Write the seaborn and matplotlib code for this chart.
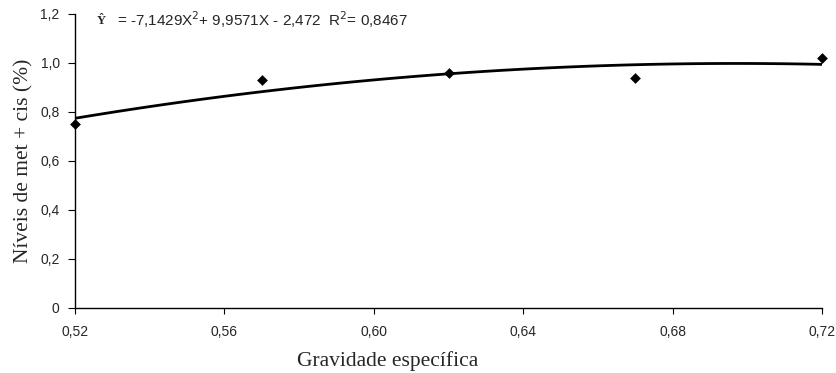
import matplotlib
matplotlib.use("Agg")
import matplotlib.pyplot as plt
import seaborn as sns
import pandas as pd
from matplotlib.ticker import FixedLocator

# Data
gravidade = [0.52, 0.57, 0.62, 0.67, 0.72]
met_cis = [0.75, 0.93, 0.96, 0.94, 1.02]
x_ticks = [0.52, 0.56, 0.60, 0.64, 0.68, 0.72]
x_tick_labels = ["0,52", "0,56", "0,60", "0,64", "0,68", "0,72"]
y_ticks = [0, 0.2, 0.4, 0.6, 0.8, 1.0, 1.2]
y_tick_labels = ["0", "0,2", "0,4", "0,6", "0,8", "1,0", "1,2"]
equation = "= -7,1429X$^2$+ 9,9571X - 2,472  R$^2$= 0,8467"

df = pd.DataFrame({"x": gravidade, "y": met_cis})

sns.set_theme(style="ticks")
plt.rcParams["font.family"] = ["Liberation Sans", "DejaVu Sans"]

fig = plt.figure(figsize=(8.37, 3.73), dpi=100)
ax = fig.add_axes([0.0896, 0.1743, 0.8925, 0.7882])

sns.regplot(data=df, x="x", y="y", order=2, ci=None, scatter=False,
            truncate=True, ax=ax, line_kws={"color": "black", "lw": 2.0})
sns.scatterplot(data=df, x="x", y="y", marker="D", s=30, color="black",
                edgecolor="black", linewidth=0, ax=ax, zorder=5, clip_on=False)

ax.set_xlim(0.52, 0.72)
ax.set_ylim(0, 1.2)
ax.xaxis.set_major_locator(FixedLocator(x_ticks))
ax.yaxis.set_major_locator(FixedLocator(y_ticks))
ax.set_xticklabels(x_tick_labels, fontsize=10)
ax.set_yticklabels(y_tick_labels, fontsize=10)
ax.tick_params(axis="x", direction="out", length=4, width=0.8, color="black", pad=8)
ax.tick_params(axis="y", direction="out", length=5, width=0.8, color="black", pad=6)

for s in ["top", "right"]:
    ax.spines[s].set_visible(False)
for s in ["left", "bottom"]:
    ax.spines[s].set_color("black")
    ax.spines[s].set_linewidth(1.0)

ax.set_xlabel("Gravidade específica", family="Liberation Serif", fontsize=15.5, labelpad=7)
ax.xaxis.set_label_coords(0.419, -0.145)
ax.xaxis.label.set_va("top")
ax.set_ylabel("Níveis de met + cis (%)", family="Liberation Serif", fontsize=15.5, labelpad=5)

ax.text(0.5258, 1.172, "Ŷ", family="Liberation Serif", fontweight="bold",
        fontsize=9, va="center", ha="left")
ax.text(0.5312, 1.176, equation, fontsize=11, va="center", ha="left")

fig.savefig("out.png", dpi=100)
